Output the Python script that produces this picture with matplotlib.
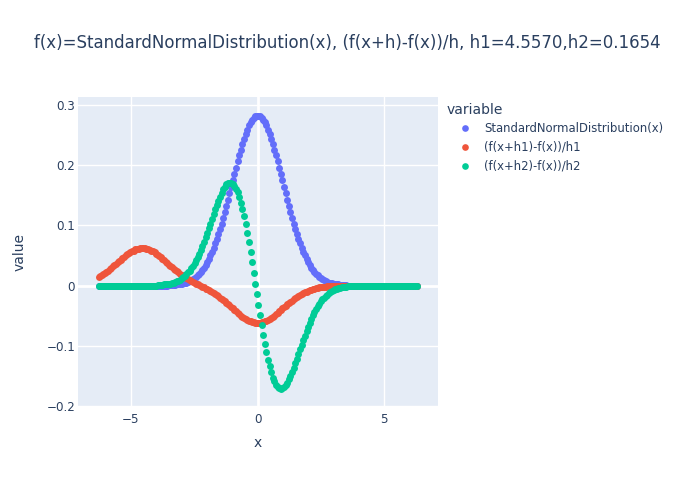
import matplotlib
matplotlib.use("Agg")
import matplotlib.pyplot as plt
from matplotlib.lines import Line2D

plt.rcParams['font.family'] = ['DejaVu Sans']

TITLE = "f(x)=StandardNormalDistribution(x), (f(x+h)-f(x))/h, h1=4.5570,h2=0.1654"
SERIES = ["StandardNormalDistribution(x)", "(f(x+h1)-f(x))/h1", "(f(x+h2)-f(x))/h2"]
COLORS = ["#636efa", "#EF553B", "#00cc96"]

x_values = [
    -6.28, -6.22, -6.16, -6.09, -6.03, -5.97, -5.90, -5.84, -5.78, -5.72,
    -5.65, -5.59, -5.53, -5.46, -5.40, -5.34, -5.27, -5.21, -5.15, -5.08,
    -5.02, -4.96, -4.89, -4.83, -4.77, -4.70, -4.64, -4.58, -4.52, -4.45,
    -4.39, -4.33, -4.26, -4.20, -4.14, -4.07, -4.01, -3.95, -3.88, -3.82,
    -3.76, -3.69, -3.63, -3.57, -3.50, -3.44, -3.38, -3.32, -3.25, -3.19,
    -3.13, -3.06, -3.00, -2.94, -2.87, -2.81, -2.75, -2.68, -2.62, -2.56,
    -2.49, -2.43, -2.37, -2.31, -2.24, -2.18, -2.12, -2.05, -1.99, -1.93,
    -1.86, -1.80, -1.74, -1.67, -1.61, -1.55, -1.48, -1.42, -1.36, -1.29,
    -1.23, -1.17, -1.11, -1.04, -0.98, -0.92, -0.85, -0.79, -0.73, -0.66,
    -0.60, -0.54, -0.47, -0.41, -0.35, -0.28, -0.22, -0.16, -0.09, -0.03,
    0.03, 0.09, 0.16, 0.22, 0.28, 0.35, 0.41, 0.47, 0.54, 0.60,
    0.66, 0.73, 0.79, 0.85, 0.92, 0.98, 1.04, 1.11, 1.17, 1.23,
    1.29, 1.36, 1.42, 1.48, 1.55, 1.61, 1.67, 1.74, 1.80, 1.86,
    1.93, 1.99, 2.05, 2.12, 2.18, 2.24, 2.31, 2.37, 2.43, 2.49,
    2.56, 2.62, 2.68, 2.75, 2.81, 2.87, 2.94, 3.00, 3.06, 3.13,
    3.19, 3.25, 3.32, 3.38, 3.44, 3.50, 3.57, 3.63, 3.69, 3.76,
    3.82, 3.88, 3.95, 4.01, 4.07, 4.14, 4.20, 4.26, 4.33, 4.39,
    4.45, 4.52, 4.58, 4.64, 4.70, 4.77, 4.83, 4.89, 4.96, 5.02,
    5.08, 5.15, 5.21, 5.27, 5.34, 5.40, 5.46, 5.53, 5.59, 5.65,
    5.72, 5.78, 5.84, 5.90, 5.97, 6.03, 6.09, 6.16, 6.22, 6.28,
]

normal_values = [
    0, 0, 0, 0, 0, 0, 0, 0, 0, 0,
    0, 0, 0, 0, 0, 0, 0, 0, 0, 0,
    0, 0, 0, 0, 0, 0, 0, 0, 0, 0,
    0, 0, 0, 0, 0, 0, 0, 0, 0, 0,
    0, 0, 0, 0, 0.001, 0.001, 0.001, 0.001, 0.001, 0.002,
    0.002, 0.003, 0.003, 0.004, 0.005, 0.005, 0.006, 0.008, 0.009, 0.011,
    0.013, 0.015, 0.017, 0.020, 0.023, 0.026, 0.030, 0.034, 0.039, 0.044,
    0.050, 0.056, 0.062, 0.070, 0.077, 0.085, 0.094, 0.103, 0.112, 0.122,
    0.132, 0.143, 0.153, 0.164, 0.175, 0.185, 0.196, 0.207, 0.217, 0.226,
    0.236, 0.244, 0.252, 0.259, 0.266, 0.271, 0.275, 0.279, 0.281, 0.282,
    0.282, 0.281, 0.279, 0.275, 0.271, 0.266, 0.259, 0.252, 0.244, 0.236,
    0.226, 0.217, 0.207, 0.196, 0.185, 0.175, 0.164, 0.153, 0.143, 0.132,
    0.122, 0.112, 0.103, 0.094, 0.085, 0.077, 0.070, 0.062, 0.056, 0.050,
    0.044, 0.039, 0.034, 0.030, 0.026, 0.023, 0.020, 0.017, 0.015, 0.013,
    0.011, 0.009, 0.008, 0.006, 0.005, 0.005, 0.004, 0.003, 0.003, 0.002,
    0.002, 0.001, 0.001, 0.001, 0.001, 0.001, 0, 0, 0, 0,
    0, 0, 0, 0, 0, 0, 0, 0, 0, 0,
    0, 0, 0, 0, 0, 0, 0, 0, 0, 0,
    0, 0, 0, 0, 0, 0, 0, 0, 0, 0,
    0, 0, 0, 0, 0, 0, 0, 0, 0, 0,
]

diff_h1_values = [
    0.014, 0.016, 0.017, 0.019, 0.021, 0.023, 0.025, 0.027, 0.029, 0.032,
    0.034, 0.036, 0.039, 0.041, 0.043, 0.046, 0.048, 0.050, 0.052, 0.054,
    0.056, 0.057, 0.058, 0.060, 0.061, 0.061, 0.062, 0.062, 0.062, 0.062,
    0.061, 0.060, 0.059, 0.058, 0.057, 0.055, 0.053, 0.051, 0.049, 0.047,
    0.045, 0.043, 0.040, 0.038, 0.035, 0.033, 0.031, 0.028, 0.026, 0.024,
    0.022, 0.020, 0.018, 0.016, 0.014, 0.012, 0.011, 0.009, 0.007, 0.006,
    0.005, 0.003, 0.002, 0.001, -0.001, -0.002, -0.003, -0.005, -0.006, -0.008,
    -0.009, -0.011, -0.013, -0.014, -0.016, -0.018, -0.020, -0.022, -0.024, -0.026,
    -0.029, -0.031, -0.033, -0.036, -0.038, -0.041, -0.043, -0.045, -0.048, -0.050,
    -0.052, -0.054, -0.055, -0.057, -0.058, -0.059, -0.060, -0.061, -0.062, -0.062,
    -0.062, -0.062, -0.061, -0.060, -0.059, -0.058, -0.057, -0.055, -0.054, -0.052,
    -0.050, -0.048, -0.045, -0.043, -0.041, -0.038, -0.036, -0.034, -0.031, -0.029,
    -0.027, -0.025, -0.023, -0.021, -0.019, -0.017, -0.015, -0.014, -0.012, -0.011,
    -0.010, -0.009, -0.008, -0.007, -0.006, -0.005, -0.004, -0.004, -0.003, -0.003,
    -0.002, -0.002, -0.002, -0.001, -0.001, -0.001, -0.001, -0.001, -0.001, 0,
    0, 0, 0, 0, 0, 0, 0, 0, 0, 0,
    0, 0, 0, 0, 0, 0, 0, 0, 0, 0,
    0, 0, 0, 0, 0, 0, 0, 0, 0, 0,
    0, 0, 0, 0, 0, 0, 0, 0, 0, 0,
    0, 0, 0, 0, 0, 0, 0, 0, 0, 0,
]

diff_h2_values = [
    0, 0, 0, 0, 0, 0, 0, 0, 0, 0,
    0, 0, 0, 0, 0, 0, 0, 0, 0, 0,
    0, 0, 0, 0, 0, 0, 0, 0, 0, 0,
    0, 0, 0, 0, 0, 0, 0, 0.001, 0.001, 0.001,
    0.001, 0.002, 0.002, 0.002, 0.003, 0.003, 0.004, 0.005, 0.006, 0.007,
    0.008, 0.010, 0.012, 0.014, 0.016, 0.019, 0.022, 0.025, 0.029, 0.033,
    0.037, 0.042, 0.047, 0.053, 0.059, 0.066, 0.073, 0.080, 0.087, 0.095,
    0.103, 0.111, 0.119, 0.127, 0.134, 0.141, 0.148, 0.154, 0.160, 0.164,
    0.168, 0.170, 0.171, 0.171, 0.169, 0.166, 0.161, 0.155, 0.148, 0.138,
    0.128, 0.116, 0.102, 0.088, 0.072, 0.056, 0.039, 0.021, 0.003, -0.014,
    -0.032, -0.049, -0.066, -0.082, -0.097, -0.111, -0.123, -0.134, -0.144, -0.153,
    -0.159, -0.165, -0.168, -0.170, -0.171, -0.170, -0.169, -0.165, -0.161, -0.156,
    -0.150, -0.144, -0.137, -0.129, -0.122, -0.114, -0.106, -0.098, -0.090, -0.083,
    -0.075, -0.068, -0.062, -0.055, -0.049, -0.044, -0.039, -0.034, -0.030, -0.026,
    -0.023, -0.020, -0.017, -0.015, -0.012, -0.011, -0.009, -0.008, -0.006, -0.005,
    -0.004, -0.004, -0.003, -0.002, -0.002, -0.002, -0.001, -0.001, -0.001, -0.001,
    -0.001, 0, 0, 0, 0, 0, 0, 0, 0, 0,
    0, 0, 0, 0, 0, 0, 0, 0, 0, 0,
    0, 0, 0, 0, 0, 0, 0, 0, 0, 0,
    0, 0, 0, 0, 0, 0, 0, 0, 0, 0,
]

x_ticks = [-5, 0, 5]
x_tick_labels = ["\u22125", "0", "5"]
y_ticks = [-0.2, -0.1, 0, 0.1, 0.2, 0.3]
y_tick_labels = ["\u22120.2", "\u22120.1", "0", "0.1", "0.2", "0.3"]

TEXT = "#2a3f5f"
W, H = 680, 486


def fx(px):
    return px / W


def fy(py):
    return 1 - py / H


fig = plt.figure(figsize=(6.8, 4.86), dpi=100)
ax = fig.add_axes([fx(78), fy(407), (438 - 78) / W, (407 - 97) / H])
ax.set_facecolor("#E5ECF6")
for sp in ax.spines.values():
    sp.set_visible(False)

ax.set_xlim(-7.09, 7.12)
ax.set_ylim(-0.2017, 0.3133)
ax.set_xticks(x_ticks)
ax.set_xticklabels(x_tick_labels)
ax.set_yticks(y_ticks)
ax.set_yticklabels(y_tick_labels)
ax.tick_params(axis="both", length=0, labelsize=8.6, colors=TEXT)
ax.tick_params(axis="y", pad=2)
ax.tick_params(axis="x", pad=4)
ax.grid(color="white", linewidth=1)
ax.set_axisbelow(True)
ax.axhline(0, color="white", linewidth=2, zorder=0.5)
ax.axvline(0, color="white", linewidth=2, zorder=0.5)

all_series = [normal_values, diff_h1_values, diff_h2_values]
for vals, col in zip(all_series, COLORS):
    ax.scatter(x_values, vals, s=25, color=col, linewidths=0, zorder=2)

fig.text(fx(34), fy(48), TITLE, fontsize=11.95, color=TEXT, va="baseline", ha="left")
fig.text(fx(258), fy(443), "x", fontsize=10, color=TEXT, ha="center", va="center")
fig.text(fx(20), fy(252), "value", fontsize=10, color=TEXT, ha="center", va="center",
         rotation=90)

# legend, drawn by hand to sit like plotly's
fig.text(fx(447), fy(110), "variable", fontsize=10, color=TEXT, va="center", ha="left")
for i, (name, col) in enumerate(zip(SERIES, COLORS)):
    yy = fy(128.3 + 18.7 * i)
    fig.add_artist(Line2D([fx(465)], [yy], marker="o", markersize=4.8, color=col,
                          markeredgewidth=0, linestyle="none", transform=fig.transFigure))
    fig.text(fx(484), yy, name, fontsize=8.4, color=TEXT, va="center", ha="left")

fig.savefig("out.png", dpi=100, facecolor="white")
